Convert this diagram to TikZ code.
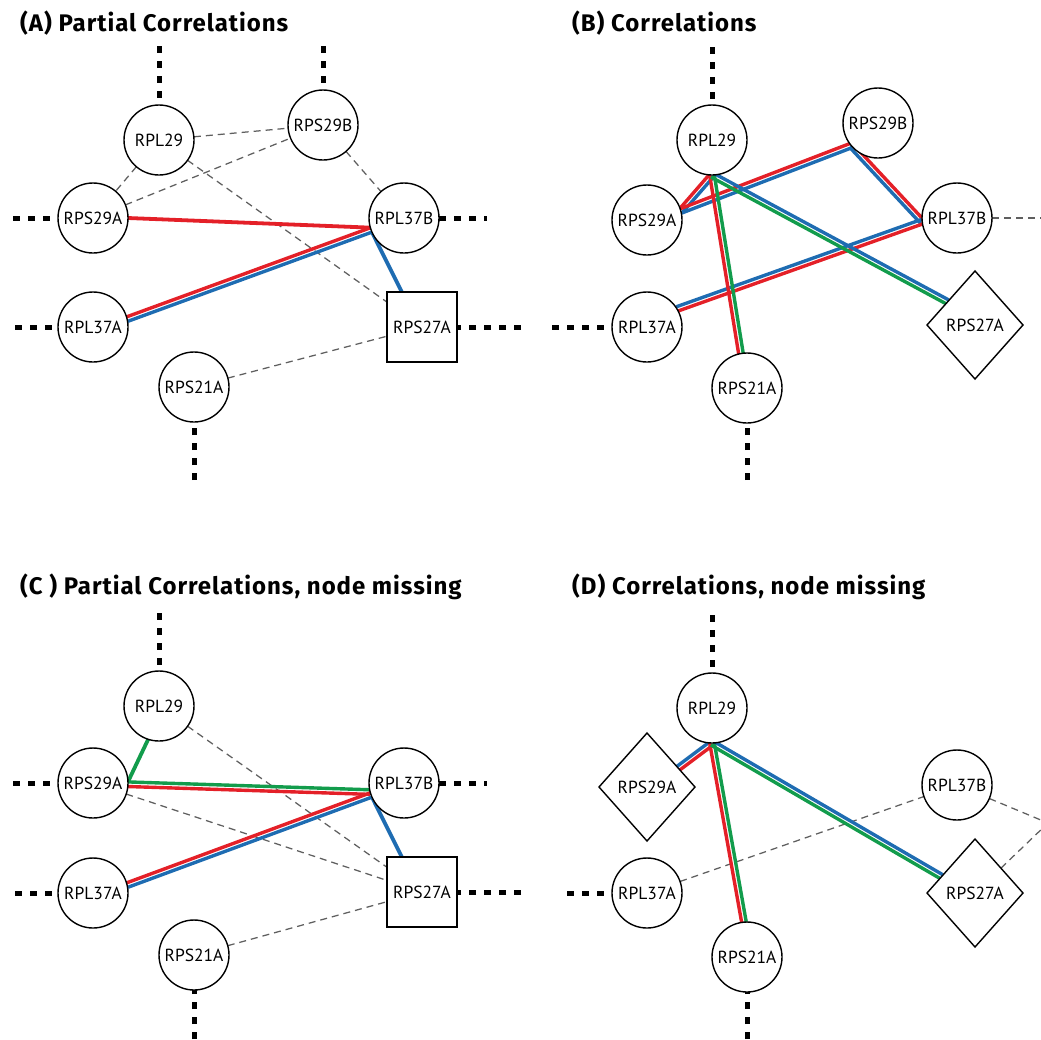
\documentclass[tikz,border=0pt]{standalone}
\usepackage{fontspec}
\setmainfont{PT Sans}
\newfontfamily\titlefont{Fira Sans}[LetterSpace=4]
\usetikzlibrary{calc,shapes.geometric}
\definecolor{cred}{RGB}{228,32,40}
\definecolor{cblue}{RGB}{30,108,178}
\definecolor{cgreen}{RGB}{18,156,76}
\definecolor{cgrey}{RGB}{95,95,95}
\pgfdeclarelayer{bg}
\pgfdeclarelayer{edges}
\pgfsetlayers{bg,edges,main}
\tikzset{
  gene/.style={circle, draw, line width=1.4pt, fill=white, minimum size=70pt,
    inner sep=0pt, outer sep=0pt, font=\fontsize{17.5}{17.5}\selectfont},
  genebox/.style={gene, rectangle, minimum size=70pt},
  genediamond/.style={gene, diamond, minimum width=96pt, minimum height=108pt},
  paneltitle/.style={anchor=base west, inner sep=0pt,
    font=\titlefont\fontsize{24}{26}\selectfont\bfseries},
  hidden/.style={line width=5pt, dash pattern=on 7pt off 8pt},
  weak/.style={cgrey, line width=1.25pt, dash pattern=on 7pt off 5pt},
  strong/.style={line width=3.8pt},
  twin/.style={line width=3.4pt},
}
% two parallel coloured strokes: #3 on the left of the travel direction, #4 on the right
\newcommand\twinedge[4]{%
  \draw[twin,#3] ($(#1)!2.3pt!90:(#2)$) -- ($(#2)!2.3pt!-90:(#1)$);
  \draw[twin,#4] ($(#1)!2.3pt!-90:(#2)$) -- ($(#2)!2.3pt!90:(#1)$);
}
\begin{document}
\begin{tikzpicture}[x=1pt,y=-1pt]
\useasboundingbox (0,0) rectangle (1041,1039);
\begin{pgfonlayer}{bg}
  \fill[white] (0,0) rectangle (1041,1039);
\end{pgfonlayer}

% ---------------- panel A ----------------
\node[paneltitle] (tA) at (20,31) {(A) Partial Correlations};
\node[gene] (aL29) at (159,140) {RPL29};
\node[gene] (aS29B) at (323,125) {RPS29B};
\node[gene] (aS29A) at (93,218) {RPS29A};
\node[gene] (aL37B) at (404,218) {RPL37B};
\node[gene] (aL37A) at (93,327) {RPL37A};
\node[genebox] (aS27A) at (422,327) {RPS27A};
\node[gene] (aS21A) at (194,387) {RPS21A};
\coordinate (aL29up) at (159,46);
\coordinate (aS29Bup) at (323,46);
\coordinate (aS29Aleft) at (13,218);
\coordinate (aL37Bright) at (487,218);
\coordinate (aL37Aleft) at (15,327);
\coordinate (aS27Aright) at (521,327);
\coordinate (aS21Adown) at (194,480);
\begin{pgfonlayer}{edges}
  \draw[hidden] (aL29up) -- (aL29);
  \draw[hidden] (aS29Bup) -- (aS29B);
  \draw[hidden] (aS29Aleft) -- (aS29A);
  \draw[hidden] (aL37B) -- (aL37Bright);
  \draw[hidden] (aL37Aleft) -- (aL37A);
  \draw[hidden] (aS27Aright) -- (aS27A);
  \draw[hidden] (aS21Adown) -- (aS21A);
  \draw[weak] (aL29) -- (aS29B);
  \draw[weak] (aL29) -- (aS29A);
  \draw[weak] (aS29A) -- (aS29B);
  \draw[weak] (aS29B) -- (aL37B);
  \draw[weak] (aL29) -- (aS27A);
  \draw[weak] (aS21A) -- (aS27A);
  \draw[strong,cred] (aS29A.0) -- (aL37B.196);
  \twinedge{aL37A.13}{aL37B.200}{cred}{cblue}
  \draw[strong,cblue] (aL37B.205) -- (aS27A.120);
\end{pgfonlayer}

% ---------------- panel B ----------------
\node[paneltitle] (tB) at (572,31) {(B) Correlations};
\node[gene] (bL29) at (712,140) {RPL29};
\node[gene] (bS29B) at (878,123) {RPS29B};
\node[gene] (bS29A) at (647,220) {RPS29A};
\node[gene] (bL37B) at (957,218) {RPL37B};
\node[gene] (bL37A) at (647,327) {RPL37A};
\node[genediamond] (bS27A) at (975,325) {RPS27A};
\node[gene] (bS21A) at (747,388) {RPS21A};
\coordinate (bL29up) at (712,47);
\coordinate (bL37Aleft) at (552,327);
\coordinate (bS21Adown) at (747,480);
\coordinate (bL37Bright) at (1060,218);
\begin{pgfonlayer}{edges}
  \draw[hidden] (bL29up) -- (bL29);
  \draw[hidden] (bL37Aleft) -- (bL37A);
  \draw[hidden] (bS21Adown) -- (bS21A);
  \draw[weak] (bL37B) -- (bL37Bright);
  \twinedge{bL29.270}{bS29A.15}{cblue}{cred}
  \twinedge{bS29A.15}{bS29B.220}{cred}{cblue}
  \twinedge{bS29B.220}{bL37B.186}{cred}{cblue}
  \twinedge{bL37B.186}{bL37A.31}{cred}{cblue}
  \twinedge{bL29.270}{bS21A.100}{cgreen}{cred}
  \twinedge{bL29.270}{bS27A.140}{cblue}{cgreen}
\end{pgfonlayer}

% ---------------- panel C ----------------
\node[paneltitle] (tC) at (20,594) {(C ) Partial Correlations, node missing};
\node[gene] (cL29) at (159,706) {RPL29};
\node[gene] (cS29A) at (93,783) {RPS29A};
\node[gene] (cL37B) at (404,783) {RPL37B};
\node[gene] (cL37A) at (93,893) {RPL37A};
\node[genebox] (cS27A) at (422,892) {RPS27A};
\node[gene] (cS21A) at (194,955) {RPS21A};
\coordinate (cL29up) at (159,613);
\coordinate (cS29Aleft) at (13,783);
\coordinate (cL37Bright) at (487,783);
\coordinate (cL37Aleft) at (15,893);
\coordinate (cS27Aright) at (521,892);
\coordinate (cS21Adown) at (194,1039);
\begin{pgfonlayer}{edges}
  \draw[hidden] (cL29up) -- (cL29);
  \draw[hidden] (cS29Aleft) -- (cS29A);
  \draw[hidden] (cL37B) -- (cL37Bright);
  \draw[hidden] (cL37Aleft) -- (cL37A);
  \draw[hidden] (cS27Aright) -- (cS27A);
  \draw[hidden] (cS21Adown) -- (cS21A);
  \draw[weak] (cL29) -- (cS27A);
  \draw[weak] (cS29A) -- (cS27A);
  \draw[weak] (cS21A) -- (cS27A);
  \draw[strong,cgreen] (cL29.252) -- (cS29A.2);
  \twinedge{cS29A.358}{cL37B.195}{cgreen}{cred}
  \twinedge{cL37A.13}{cL37B.200}{cred}{cblue}
  \draw[strong,cblue] (cL37B.205) -- (cS27A.120);
\end{pgfonlayer}

% ---------------- panel D ----------------
\node[paneltitle] (tD) at (572,594) {(D) Correlations, node missing};
\node[gene] (dL29) at (712,708) {RPL29};
\node[genediamond] (dS29A) at (647,787) {RPS29A};
\node[gene] (dL37B) at (957,785) {RPL37B};
\node[genediamond] (dS27A) at (975,893) {RPS27A};
\node[gene] (dL37A) at (647,893) {RPL37A};
\node[gene] (dS21A) at (747,957) {RPS21A};
\coordinate (dL29up) at (712,615);
\coordinate (dL37Aleft) at (567,893);
\coordinate (dS21Adown) at (747,1039);
\coordinate (dOff) at (1048,823);
\begin{pgfonlayer}{edges}
  \draw[hidden] (dL29up) -- (dL29);
  \draw[hidden] (dL37Aleft) -- (dL37A);
  \draw[hidden] (dS21Adown) -- (dS21A);
  \draw[weak] (dL37A) -- (dL37B);
  \draw[weak] (dL37B) -- (dOff);
  \draw[weak] (dS27A) -- (dOff);
  \twinedge{dL29.270}{dS29A.31}{cred}{cblue}
  \twinedge{dL29.270}{dS21A.95}{cgreen}{cred}
  \twinedge{dL29.270}{dS27A.154}{cblue}{cgreen}
\end{pgfonlayer}
\end{tikzpicture}
\end{document}
